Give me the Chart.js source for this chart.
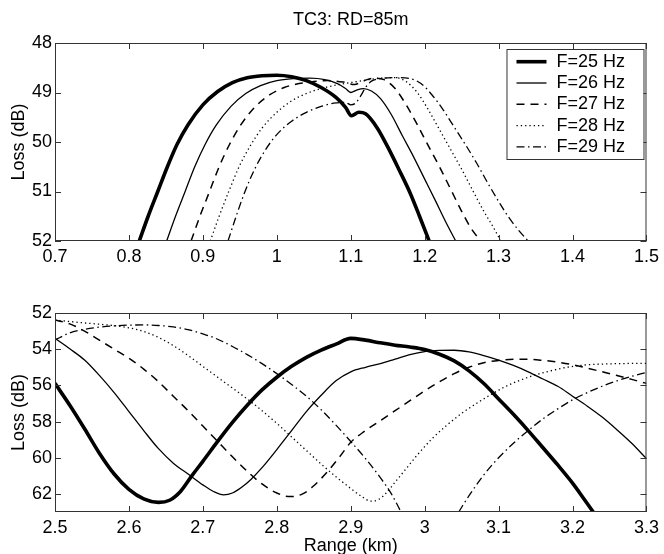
<!DOCTYPE html>
<html>
<head>
<meta charset="utf-8">
<title>TC3: RD=85m</title>
<script src="https://cdn.jsdelivr.net/npm/chart.js@4.4.1/dist/chart.umd.min.js"></script>
<style>
    html, body { margin: 0; padding: 0; background: #ffffff; overflow: hidden; }
    #wrap { position: relative; width: 664px; height: 554px; }
    #wrap canvas { position: absolute; left: 0; }
    #topChart { top: 0; }
    #bottomChart { top: 270px; }
</style>
</head>
<body>
<div id="wrap">
    <canvas id="topChart" width="664" height="270"></canvas>
    <canvas id="bottomChart" width="664" height="284"></canvas>
</div>
<script>
// Legend labels
const seriesLabels = ['F=25 Hz', 'F=26 Hz', 'F=27 Hz', 'F=28 Hz', 'F=29 Hz'];

// Top panel: range 0.7-1.5 km
const topXTicks = [0.7, 0.8, 0.9, 1.0, 1.1, 1.2, 1.3, 1.4, 1.5];
const topXLabels = ['0.7', '0.8', '0.9', '1', '1.1', '1.2', '1.3', '1.4', '1.5'];
const topYTicks = [48, 49, 50, 51, 52];

const topX25 = [0.814, 0.826, 0.839, 0.852, 0.865, 0.88, 0.9, 0.92, 0.94, 0.96, 0.98, 1.0, 1.02, 1.04, 1.06, 1.08, 1.093, 1.101, 1.111, 1.12, 1.136, 1.15, 1.165, 1.18, 1.193, 1.206];
const topY25 = [52, 51.5, 51.0, 50.5, 50.05, 49.65, 49.25, 48.98, 48.8, 48.7, 48.66, 48.65, 48.68, 48.76, 48.9, 49.1, 49.3, 49.47, 49.4, 49.43, 49.72, 50.1, 50.55, 51.02, 51.5, 52];

const topX26 = [0.851, 0.863, 0.876, 0.889, 0.903, 0.918, 0.938, 0.958, 0.978, 1.0, 1.022, 1.045, 1.065, 1.082, 1.093, 1.1, 1.108, 1.117, 1.128, 1.14, 1.155, 1.17, 1.185, 1.2, 1.215, 1.228, 1.242];
const topY26 = [52, 51.5, 51.0, 50.5, 50.05, 49.66, 49.28, 49.02, 48.86, 48.76, 48.72, 48.71, 48.74, 48.82, 48.92, 49.0, 48.95, 48.92, 48.97, 49.12, 49.45, 49.88, 50.3, 50.75, 51.2, 51.6, 52];

const topX27 = [0.884, 0.896, 0.909, 0.922, 0.936, 0.951, 0.97, 0.99, 1.01, 1.03, 1.05, 1.07, 1.09, 1.105, 1.113, 1.122, 1.132, 1.145, 1.16, 1.175, 1.19, 1.205, 1.22, 1.235, 1.25, 1.263, 1.276];
const topY27 = [52, 51.5, 51.0, 50.5, 50.05, 49.66, 49.3, 49.05, 48.9, 48.82, 48.78, 48.76, 48.79, 48.84, 48.8, 48.74, 48.71, 48.74, 48.92, 49.25, 49.65, 50.08, 50.5, 50.95, 51.4, 51.75, 52];

const topX28 = [0.91, 0.922, 0.935, 0.949, 0.964, 0.98, 1.0, 1.02, 1.04, 1.06, 1.08, 1.1, 1.12, 1.14, 1.16, 1.175, 1.19, 1.205, 1.22, 1.235, 1.25, 1.265, 1.28, 1.292, 1.303];
const topY28 = [52, 51.5, 51.0, 50.5, 50.08, 49.72, 49.4, 49.17, 49.02, 48.92, 48.85, 48.8, 48.75, 48.71, 48.7, 48.78, 49.0, 49.35, 49.75, 50.15, 50.55, 50.98, 51.4, 51.7, 52];

const topX29 = [0.934, 0.945, 0.957, 0.97, 0.985, 1.0, 1.02, 1.04, 1.06, 1.08, 1.093, 1.1, 1.106, 1.113, 1.12, 1.128, 1.14, 1.16, 1.18, 1.195, 1.21, 1.225, 1.24, 1.255, 1.27, 1.285, 1.3, 1.315, 1.328, 1.34];
const topY29 = [52, 51.5, 51.0, 50.55, 50.15, 49.85, 49.58, 49.4, 49.28, 49.21, 49.2, 49.25, 49.22, 49.08, 48.9, 48.77, 48.72, 48.7, 48.72, 48.82, 49.05, 49.35, 49.7, 50.05, 50.42, 50.82, 51.2, 51.55, 51.8, 52];

// Bottom panel: range 2.5-3.3 km
const botXTicks = [2.5, 2.6, 2.7, 2.8, 2.9, 3.0, 3.1, 3.2, 3.3];
const botXLabels = ['2.5', '2.6', '2.7', '2.8', '2.9', '3', '3.1', '3.2', '3.3'];
const botYTicks = [52, 54, 56, 58, 60, 62];

const botX25 = [2.5, 2.52, 2.54, 2.56, 2.58, 2.6, 2.62, 2.64, 2.655, 2.67, 2.685, 2.7, 2.72, 2.74, 2.76, 2.78, 2.8, 2.82, 2.84, 2.86, 2.88, 2.9, 2.92, 2.94, 2.96, 2.98, 3.0, 3.02, 3.04, 3.06, 3.08, 3.1, 3.12, 3.14, 3.16, 3.18, 3.2, 3.215, 3.228];
const botY25 = [55.89, 57.1, 58.4, 59.75, 60.9, 61.75, 62.28, 62.47, 62.35, 61.85, 61.0, 60.2, 59.1, 58.05, 57.1, 56.25, 55.55, 54.95, 54.45, 54.05, 53.72, 53.4, 53.5, 53.65, 53.78, 53.88, 54.02, 54.28, 54.65, 55.2, 55.9, 56.75, 57.6, 58.5, 59.45, 60.4, 61.4, 62.25, 63];

const botX26 = [2.5, 2.52, 2.54, 2.56, 2.58, 2.6, 2.62, 2.64, 2.66, 2.68, 2.7, 2.715, 2.728, 2.74, 2.752, 2.765, 2.78, 2.8, 2.82, 2.84, 2.86, 2.88, 2.9, 2.92, 2.94, 2.96, 2.98, 3.0, 3.02, 3.04, 3.06, 3.08, 3.1, 3.12, 3.14, 3.16, 3.18, 3.2, 3.22, 3.24, 3.26, 3.28, 3.3];
const botY26 = [53.4, 53.98, 54.6, 55.45, 56.4, 57.45, 58.5, 59.5, 60.3, 60.9, 61.5, 61.88, 62.05, 61.95, 61.65, 61.2, 60.55, 59.55, 58.5, 57.45, 56.55, 55.75, 55.25, 55.0, 54.8, 54.55, 54.3, 54.13, 54.07, 54.06, 54.15, 54.35, 54.6, 54.9, 55.25, 55.65, 56.05, 56.6, 57.15, 57.75, 58.45, 59.2, 60.05];

const botX27 = [2.5, 2.52, 2.54, 2.56, 2.58, 2.6, 2.62, 2.64, 2.66, 2.68, 2.7, 2.72, 2.74, 2.76, 2.78, 2.8, 2.818, 2.835, 2.85, 2.87, 2.885, 2.9, 2.92, 2.94, 2.96, 2.98, 3.0, 3.02, 3.04, 3.06, 3.08, 3.1, 3.12, 3.14, 3.16, 3.18, 3.2, 3.22, 3.24, 3.26, 3.28, 3.3];
const botY27 = [52.39, 52.6, 53.0, 53.5, 54.0, 54.5, 55.1, 55.8, 56.6, 57.4, 58.25, 59.1, 59.95, 60.75, 61.45, 61.95, 62.15, 62.0, 61.55, 60.7, 59.95, 59.15, 58.5, 57.95, 57.4, 56.85, 56.3, 55.8, 55.35, 55.0, 54.75, 54.62, 54.56, 54.56, 54.62, 54.72, 54.86, 55.05, 55.25, 55.45, 55.67, 55.89];

const botX28 = [2.5, 2.52, 2.54, 2.56, 2.58, 2.6, 2.62, 2.64, 2.66, 2.68, 2.7, 2.72, 2.74, 2.76, 2.78, 2.8, 2.82, 2.84, 2.86, 2.88, 2.9, 2.915, 2.927, 2.938, 2.948, 2.96, 2.975, 2.99, 3.01, 3.03, 3.05, 3.07, 3.09, 3.11, 3.13, 3.15, 3.17, 3.19, 3.21, 3.23, 3.25, 3.275, 3.3];
const botY28 = [52.39, 52.47, 52.55, 52.62, 52.7, 52.82, 53.02, 53.35, 53.8, 54.35, 54.95, 55.55, 56.15, 56.75, 57.4, 58.1, 58.85, 59.6, 60.35, 61.05, 61.7, 62.15, 62.4, 62.3, 61.95, 61.35, 60.6, 59.85, 58.95, 58.2, 57.55, 57.0, 56.5, 56.05, 55.7, 55.42, 55.2, 55.02, 54.9, 54.84, 54.81, 54.79, 54.78];

// F=29 leaves the panel below 63 dB between its two pieces (null = gap)
const botX29 = [2.5, 2.52, 2.54, 2.56, 2.58, 2.6, 2.62, 2.64, 2.66, 2.68, 2.7, 2.72, 2.74, 2.76, 2.78, 2.8, 2.82, 2.84, 2.86, 2.88, 2.9, 2.92, 2.94, 2.955, 2.968, 3.0, 3.046, 3.06, 3.08, 3.1, 3.12, 3.14, 3.16, 3.18, 3.2, 3.22, 3.24, 3.26, 3.28, 3.3];
const botY29 = [53.49, 53.1, 52.9, 52.78, 52.71, 52.67, 52.66, 52.69, 52.77, 52.92, 53.15, 53.45, 53.85, 54.3, 54.8, 55.35, 55.95, 56.6, 57.35, 58.2, 59.1, 60.05, 61.1, 62.0, 63, null, 63, 62.1, 60.95, 60.0, 59.2, 58.5, 57.85, 57.3, 56.8, 56.4, 56.05, 55.75, 55.5, 55.28];

const FONT = { family: '"Liberation Sans", Arial, Helvetica, sans-serif', size: 18 };
const TICK_LEN = 6;
const lineStyles = [
    { borderWidth: 3.6, borderDash: [] },
    { borderWidth: 1.3, borderDash: [] },
    { borderWidth: 1.5, borderDash: [8, 6] },
    { borderWidth: 1.3, borderDash: [1.3, 3] },
    { borderWidth: 1.3, borderDash: [8, 3.5, 1.5, 3.5] }
];

Chart.defaults.font.family = FONT.family;
Chart.defaults.font.size = FONT.size;
Chart.defaults.color = '#000000';

function toPoints(xs, ys) {
    return xs.map((x, i) => ({ x: x, y: ys[i] }));
}

function buildDatasets(pairs) {
    return pairs.map(([xs, ys], i) => ({
        label: seriesLabels[i],
        data: toPoints(xs, ys),
        borderColor: '#000000',
        borderWidth: lineStyles[i].borderWidth,
        borderDash: lineStyles[i].borderDash,
        pointRadius: 0,
        fill: false,
        spanGaps: false,
        cubicInterpolationMode: 'monotone',
        clip: 0
    }));
}

// MATLAB-style box with inward ticks on all four sides
const frameAndTicks = {
    id: 'frameAndTicks',
    afterDatasetsDraw(chart) {
        const { ctx, chartArea: a, scales: { x, y } } = chart;
        ctx.save();
        ctx.strokeStyle = '#333333';
        ctx.lineWidth = 1;
        ctx.setLineDash([]);
        ctx.beginPath();
        x.ticks.forEach(t => {
            const px = Math.round(x.getPixelForValue(t.value)) + 0.5;
            ctx.moveTo(px, a.bottom);
            ctx.lineTo(px, a.bottom - TICK_LEN);
            ctx.moveTo(px, a.top);
            ctx.lineTo(px, a.top + TICK_LEN);
        });
        y.ticks.forEach(t => {
            const py = Math.round(y.getPixelForValue(t.value)) + 0.5;
            ctx.moveTo(a.left, py);
            ctx.lineTo(a.left + TICK_LEN, py);
            ctx.moveTo(a.right, py);
            ctx.lineTo(a.right - TICK_LEN, py);
        });
        ctx.stroke();
        ctx.strokeRect(a.left + 0.5, a.top + 0.5, a.width - 1, a.height - 1);
        ctx.restore();
    }
};

// Boxed legend in the upper right corner of the axes
const boxLegend = {
    id: 'boxLegend',
    afterDraw(chart, args, opts) {
        if (!opts.show) return;
        const { ctx, chartArea: a } = chart;
        const w = 137, h = 110, rowH = 21.3;
        const left = a.right - 3 - w;
        const top = a.top + 6;
        ctx.save();
        ctx.fillStyle = '#ffffff';
        ctx.fillRect(left, top, w, h);
        ctx.strokeStyle = '#333333';
        ctx.lineWidth = 1;
        ctx.strokeRect(left + 0.5, top + 0.5, w, h);
        ctx.font = FONT.size + 'px ' + FONT.family;
        ctx.textBaseline = 'middle';
        ctx.textAlign = 'left';
        chart.data.datasets.forEach((ds, i) => {
            const cy = top + 12.7 + i * rowH;
            ctx.beginPath();
            ctx.setLineDash(ds.borderDash);
            ctx.lineWidth = ds.borderWidth;
            ctx.strokeStyle = ds.borderColor;
            ctx.moveTo(left + 10, cy);
            ctx.lineTo(left + 40, cy);
            ctx.stroke();
            ctx.setLineDash([]);
            ctx.fillStyle = '#000000';
            ctx.fillText(ds.label, left + 50, cy);
        });
        ctx.restore();
    }
};

function makePanel(canvasId, cfg) {
    return new Chart(document.getElementById(canvasId), {
        type: 'line',
        data: { datasets: buildDatasets(cfg.series) },
        options: {
            responsive: false,
            devicePixelRatio: 1,
            animation: false,
            events: [],
            layout: { padding: { left: 0, right: 13, top: cfg.padTop, bottom: 0 } },
            plugins: {
                legend: { display: false },
                tooltip: { enabled: false },
                title: cfg.title ? {
                    display: true,
                    text: cfg.title,
                    fullSize: false,
                    color: '#000000',
                    font: { size: FONT.size, weight: 'normal' },
                    padding: { top: 9.2, bottom: 12.2 }
                } : { display: false },
                boxLegend: { show: cfg.legend }
            },
            scales: {
                x: {
                    type: 'linear',
                    min: cfg.xTicks[0],
                    max: cfg.xTicks[cfg.xTicks.length - 1],
                    grid: { display: false, drawTicks: false },
                    border: { display: false },
                    afterBuildTicks: s => { s.ticks = cfg.xTicks.map(v => ({ value: v })); },
                    afterFit: s => { s.height = cfg.xAxisHeight; },
                    ticks: {
                        autoSkip: false,
                        maxRotation: 0,
                        padding: 5,
                        color: '#000000',
                        callback: (v, i) => cfg.xLabels[i]
                    },
                    title: cfg.xTitle ? {
                        display: true,
                        text: cfg.xTitle,
                        color: '#000000',
                        padding: { top: 0, bottom: -3 }
                    } : { display: false }
                },
                y: {
                    type: 'linear',
                    reverse: true,
                    min: cfg.yMin,
                    max: cfg.yMax,
                    grid: { display: false, drawTicks: false },
                    border: { display: false },
                    afterBuildTicks: s => { s.ticks = cfg.yTicks.map(v => ({ value: v })); },
                    afterFit: s => { s.width = 55; },
                    ticks: {
                        padding: 3,
                        color: '#000000',
                        callback: v => String(v)
                    },
                    title: {
                        display: true,
                        text: 'Loss (dB)',
                        color: '#000000',
                        padding: { top: 8, bottom: 0 }
                    }
                }
            }
        },
        plugins: [frameAndTicks, boxLegend]
    });
}

document.addEventListener('DOMContentLoaded', () => {
    makePanel('topChart', {
        series: [[topX25, topY25], [topX26, topY26], [topX27, topY27], [topX28, topY28], [topX29, topY29]],
        xTicks: topXTicks,
        xLabels: topXLabels,
        yTicks: topYTicks,
        yMin: 48,
        yMax: 52,
        padTop: 0,
        xAxisHeight: 29,
        title: 'TC3: RD=85m',
        legend: true
    });
    makePanel('bottomChart', {
        series: [[botX25, botY25], [botX26, botY26], [botX27, botY27], [botX28, botY28], [botX29, botY29]],
        xTicks: botXTicks,
        xLabels: botXLabels,
        yTicks: botYTicks,
        yMin: 52,
        yMax: 63,
        padTop: 43,
        xAxisHeight: 42,
        xTitle: 'Range (km)',
        legend: false
    });
});
</script>
</body>
</html>
